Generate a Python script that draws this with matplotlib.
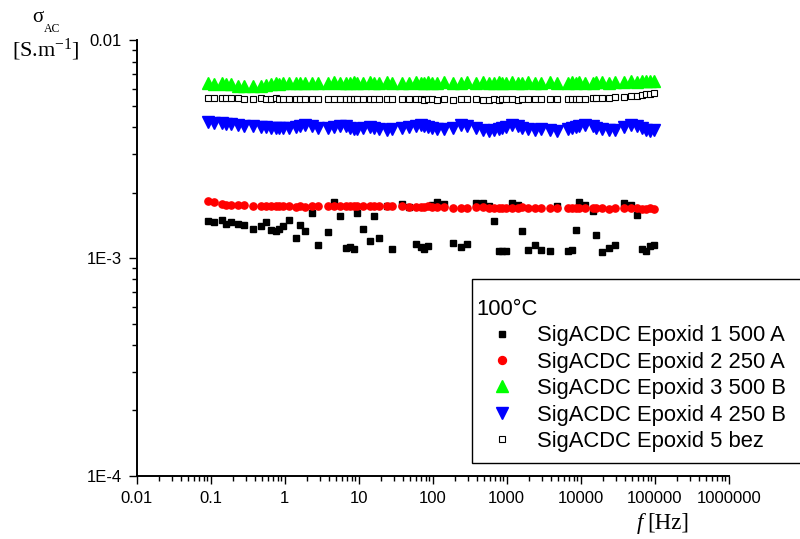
import matplotlib
matplotlib.use("Agg")
import matplotlib.pyplot as plt
from matplotlib.patches import Rectangle
from matplotlib.ticker import LogLocator, FixedLocator, FixedFormatter, NullFormatter

plt.rcParams["font.family"] = ["Liberation Sans", "DejaVu Sans"]
plt.rcParams["mathtext.fontset"] = "custom"
plt.rcParams["mathtext.rm"] = "Liberation Serif"
plt.rcParams["mathtext.it"] = "Liberation Serif:italic"

# Frequency grid [Hz]
freq = [0.0929, 0.112, 0.141, 0.161, 0.188, 0.236, 0.284, 0.377, 0.474, 0.558,
        0.653, 0.755, 0.838, 0.940, 1.14, 1.42, 1.61, 1.91, 2.36, 2.84,
        3.81, 4.68, 5.64, 6.67, 7.62, 8.55, 9.48, 11.4, 14.2, 16.3,
        19.0, 24.1, 28.4, 38.1, 47.9, 59.4, 69.5, 76.9, 85.5, 96.8,
        114, 144, 190, 241, 288, 381, 483, 577, 667, 787,
        863, 979, 1170, 1435, 1626, 1923, 2377, 2864, 3846, 4786,
        6668, 7691, 8630, 9484, 11530, 14520, 16260, 19410, 24100, 28770,
        38460, 47860, 57680, 67920, 76910, 87700, 97950]

# AC conductivity [S/m], in units of 1e-3
epoxid1_500A = [1.49, 1.466, 1.502, 1.444, 1.466, 1.44, 1.414, 1.361, 1.41, 1.466,
                1.347, 1.327, 1.365, 1.41, 1.497, 1.242, 1.425, 1.327, 1.612, 1.15,
                1.319, 1.811, 1.571, 1.114, 1.121, 1.102, 1.622, 1.361, 1.194, 1.571,
                1.238, 1.741, 1.102, 1.778, 1.728, 1.159, 1.132, 1.102, 1.141, 1.759,
                1.816, 1.778, 1.181, 1.132, 1.159, 1.803, 1.803, 1.741, 1.49, 1.082,
                1.082, 1.082, 1.788, 1.759, 1.33, 1.088, 1.145, 1.094, 1.082, 1.741,
                1.082, 1.088, 1.351, 1.811, 1.759, 1.643, 1.282, 1.071, 1.114, 1.153,
                1.803, 1.759, 1.58, 1.102, 1.079, 1.135, 1.15]

epoxid2_250A = [1.84, 1.81, 1.78, 1.76, 1.755, 1.755, 1.755, 1.74, 1.735, 1.735,
                1.74, 1.745, 1.74, 1.735, 1.73, 1.72, 1.73, 1.725, 1.73, 1.74,
                1.735, 1.735, 1.74, 1.735, 1.74, 1.745, 1.735, 1.735, 1.74, 1.735,
                1.73, 1.74, 1.73, 1.73, 1.725, 1.72, 1.72, 1.725, 1.73, 1.725,
                1.72, 1.715, 1.705, 1.705, 1.71, 1.72, 1.72, 1.705, 1.70, 1.695,
                1.695, 1.70, 1.705, 1.71, 1.72, 1.71, 1.70, 1.705, 1.70, 1.705,
                1.71, 1.70, 1.695, 1.70, 1.705, 1.70, 1.705, 1.695, 1.69, 1.70,
                1.705, 1.70, 1.695, 1.69, 1.69, 1.695, 1.69]

epoxid3_500B = [6.35, 6.3, 6.35, 6.3, 6.3, 6.2, 6.15, 6.2, 6.15, 6.25,
                6.3, 6.35, 6.3, 6.35, 6.4, 6.35, 6.4, 6.4, 6.35, 6.4,
                6.4, 6.45, 6.4, 6.4, 6.4, 6.45, 6.4, 6.4, 6.45, 6.4,
                6.4, 6.45, 6.4, 6.4, 6.4, 6.45, 6.4, 6.4, 6.45, 6.4,
                6.4, 6.45, 6.4, 6.4, 6.45, 6.4, 6.45, 6.4, 6.4, 6.45,
                6.4, 6.4, 6.45, 6.4, 6.4, 6.45, 6.4, 6.4, 6.45, 6.4,
                6.4, 6.45, 6.4, 6.45, 6.4, 6.4, 6.45, 6.45, 6.4, 6.45,
                6.45, 6.5, 6.45, 6.5, 6.5, 6.55, 6.55]

epoxid4_250B = [4.22, 4.20, 4.17, 4.15, 4.13, 4.10, 4.07, 4.04, 4.02, 4.00,
                3.98, 3.97, 3.96, 3.96, 3.97, 4.00, 4.06, 4.08, 4.04, 3.96,
                3.95, 4.00, 4.07, 4.05, 3.98, 3.94, 3.93, 3.96, 4.00, 3.96,
                3.94, 3.90, 3.93, 3.97, 4.00, 4.06, 4.08, 4.06, 4.02, 3.98,
                3.94, 3.92, 3.97, 4.08, 4.06, 3.95, 3.88, 3.86, 3.88, 3.92,
                3.95, 4.02, 4.08, 4.05, 3.98, 3.92, 3.90, 3.93, 3.88, 3.86,
                3.92, 3.97, 4.00, 4.04, 4.08, 4.05, 3.98, 3.92, 3.88, 3.90,
                4.00, 4.08, 4.05, 3.95, 3.88, 3.86, 3.87]

epoxid5_bez = [5.47, 5.45, 5.44, 5.44, 5.42, 5.42, 5.40, 5.40, 5.42, 5.40,
               5.40, 5.42, 5.40, 5.40, 5.38, 5.40, 5.40, 5.38, 5.38, 5.40,
               5.38, 5.38, 5.36, 5.38, 5.38, 5.40, 5.38, 5.36, 5.38, 5.36,
               5.38, 5.36, 5.38, 5.36, 5.36, 5.38, 5.36, 5.34, 5.36, 5.36,
               5.34, 5.36, 5.34, 5.36, 5.38, 5.36, 5.34, 5.34, 5.36, 5.34,
               5.36, 5.38, 5.36, 5.34, 5.36, 5.36, 5.38, 5.36, 5.36, 5.38,
               5.38, 5.36, 5.38, 5.40, 5.40, 5.42, 5.42, 5.45, 5.47, 5.50,
               5.52, 5.55, 5.58, 5.62, 5.65, 5.68, 5.72]

labels = ["SigACDC Epoxid 1 500 A", "SigACDC Epoxid 2 250 A",
          "SigACDC Epoxid 3 500 B", "SigACDC Epoxid 4 250 B",
          "SigACDC Epoxid 5 bez"]
x_ticks = [0.01, 0.1, 1, 10, 100, 1000, 10000, 100000, 1000000]
x_ticklabels = ["0.01", "0.1", "1", "10", "100", "1000", "10000", "100000", "1000000"]
y_ticks = [1e-4, 1e-3, 1e-2]
y_ticklabels = ["1E-4", "1E-3", "0.01"]

W, H = 800, 539
fig = plt.figure(figsize=(W / 100, H / 100), dpi=100)
ax = fig.add_axes([136.7 / W, 1 - 476 / H, 592 / W, 435.5 / H])

scale = 1e-3
styles = [
    dict(marker="s", ms=4.3, color="black", mfc="black", mec="black"),
    dict(marker="o", ms=5.2, color="red", mfc="red", mec="red"),
    dict(marker="^", ms=8.3, color="#00ff00", mfc="#00ff00", mec="#00ff00"),
    dict(marker="v", ms=8.3, color="blue", mfc="blue", mec="blue"),
    dict(marker="s", ms=4.3, color="black", mfc="white", mec="black", mew=0.8),
]
series = [epoxid1_500A, epoxid2_250A, epoxid3_500B, epoxid4_250B, epoxid5_bez]
handles = []
for vals, st, lab in zip(series, styles, labels):
    h, = ax.plot(freq, [v * scale for v in vals], linestyle="none", label=lab, **st)
    handles.append(h)

ax.set_xscale("log")
ax.set_yscale("log")
ax.set_xlim(0.01, 1e6)
ax.set_ylim(1e-4, 1e-2)

for side in ("top", "right"):
    ax.spines[side].set_visible(False)
for side in ("left", "bottom"):
    ax.spines[side].set_linewidth(1.4)

ax.xaxis.set_major_locator(FixedLocator(x_ticks))
ax.xaxis.set_major_formatter(FixedFormatter(x_ticklabels))
ax.xaxis.set_minor_locator(LogLocator(base=10, subs=range(2, 10), numticks=20))
ax.xaxis.set_minor_formatter(NullFormatter())
ax.yaxis.set_major_locator(FixedLocator(y_ticks))
ax.yaxis.set_major_formatter(FixedFormatter(y_ticklabels))
ax.yaxis.set_minor_locator(LogLocator(base=10, subs=range(2, 10), numticks=20))
ax.yaxis.set_minor_formatter(NullFormatter())

ax.tick_params(which="major", direction="out", length=6, width=1.0, labelsize=12, pad=5)
ax.tick_params(which="minor", direction="out", length=3.5, width=1.0)

# axis titles
serif = ["Liberation Serif", "DejaVu Serif"]
fig.text(38 / W, 1 - 18 / H, "\u03c3", fontsize=15, family=serif, ha="center", va="center")
fig.text(52 / W, 1 - 29 / H, "AC", fontsize=8.5, family=serif, ha="center", va="center")
fig.text(46 / W, 1 - 50 / H, r"[S.m$^{\mathregular{-1}}$]", fontsize=16, family=serif,
         ha="center", va="center")
fig.text(643 / W, 1 - 523 / H, "f", fontsize=16.5, family=serif, style="italic",
         ha="right", va="center")
fig.text(647 / W, 1 - 523 / H, "[Hz]", fontsize=16.5, family=serif, ha="left", va="center")

# legend content, with its frame drawn as a separate box
leg = fig.legend(handles=handles, labels=labels, title="100\u00b0C",
                 loc="upper left", bbox_to_anchor=(476 / W, 1 - 299 / H),
                 borderaxespad=0, fontsize=15.8, title_fontsize=15.8,
                 alignment="left", frameon=False, borderpad=0,
                 labelspacing=0.245, handlelength=2.35,
                 handletextpad=0.42, markerscale=1.1)
frame = Rectangle((472 / W, 1 - 463 / H), (W + 5 - 472) / W, (463 - 279.3) / H,
                  transform=fig.transFigure, facecolor="white", edgecolor="black",
                  linewidth=1.0, zorder=4)
fig.patches.append(frame)
leg.set_zorder(5)

fig.savefig("out.png", dpi=100)
